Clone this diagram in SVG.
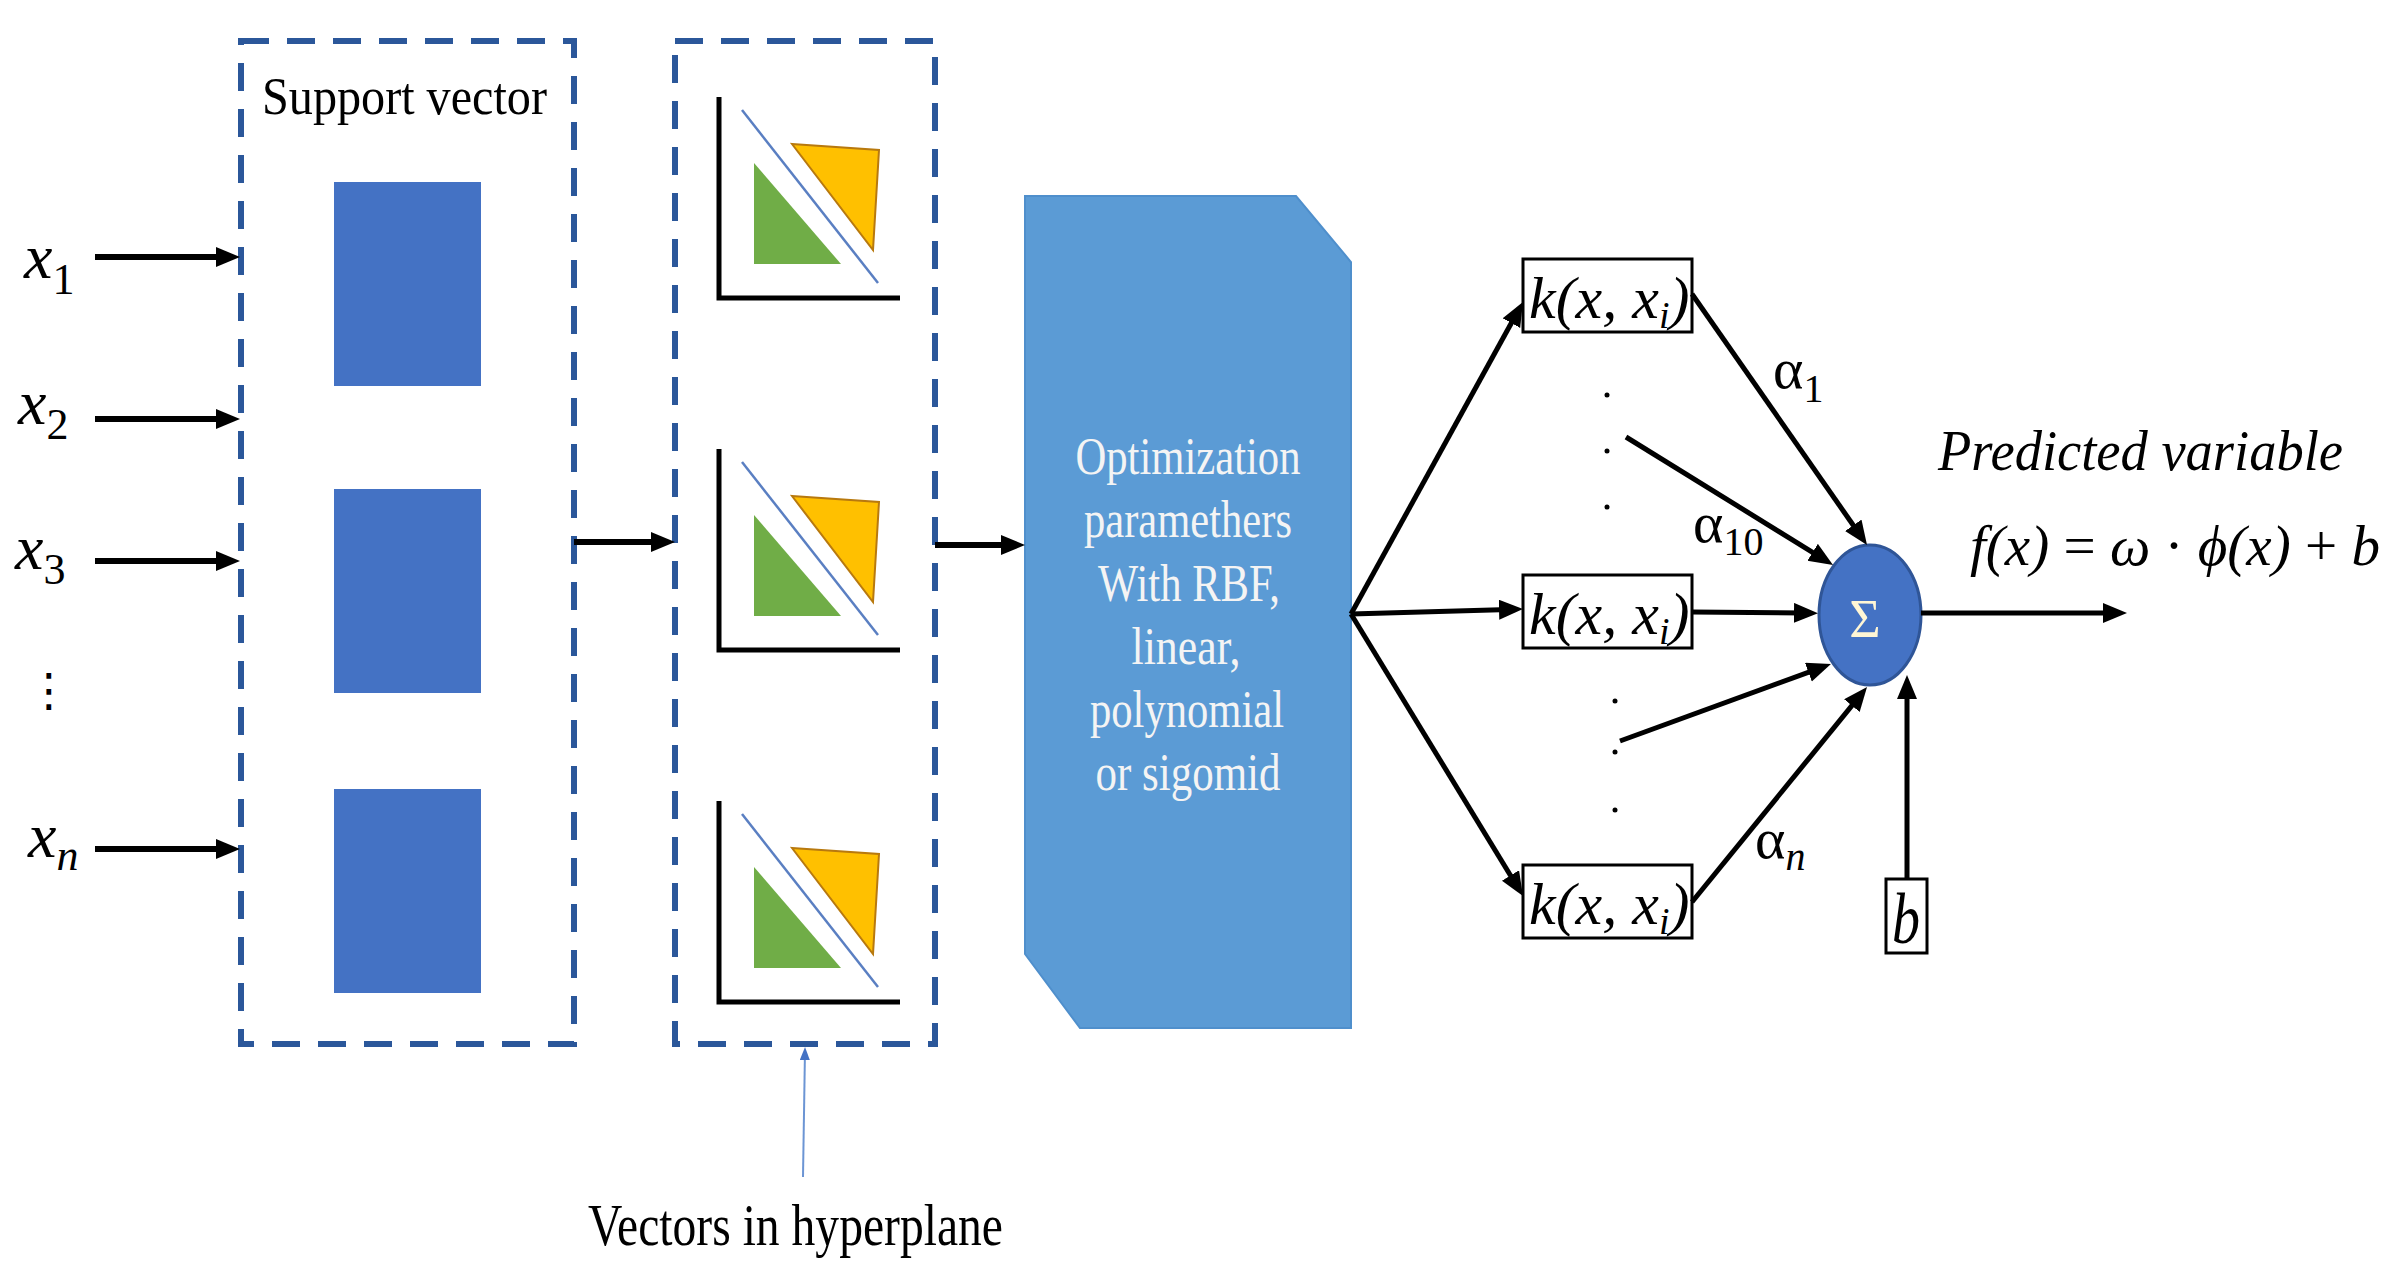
<svg xmlns="http://www.w3.org/2000/svg" xmlns:xlink="http://www.w3.org/1999/xlink" width="2394" height="1274" viewBox="0 0 2394 1274">
<style>
.dash{fill:none;stroke:#2B579A;stroke-width:6;stroke-dasharray:28 18}
.sv{fill:#4472C4}
.ln{fill:none;stroke:#000;stroke-width:5}
.lnt{fill:none;stroke:#000;stroke-width:6}
.kbox{fill:#fff;stroke:#000;stroke-width:3}
.serif{font-family:"Liberation Serif","Times New Roman",serif;fill:#000}
.math{font-family:"Liberation Serif","Times New Roman",serif;font-style:italic;fill:#000}
.wt{font-family:"Liberation Serif","Times New Roman",serif;fill:#F4F4F4;font-size:52px;text-anchor:middle}
</style>
<defs>
<marker id="ah" markerUnits="userSpaceOnUse" markerWidth="26" markerHeight="22" refX="10" refY="10" orient="auto">
<path d="M0,0 L24,10 L0,20 Z" fill="#000"/>
</marker>
<marker id="ahb" markerUnits="userSpaceOnUse" markerWidth="14" markerHeight="12" refX="4" refY="5" orient="auto">
<path d="M0,0 L13,5 L0,10 Z" fill="#4472C4"/>
</marker>
<g id="hyper">
<polygon points="754,163 754,264 841,264" fill="#70AD47"/>
<polygon points="792,144 879,150 873,250" fill="#FFC000" stroke="#B8790E" stroke-width="2"/>
<line x1="742" y1="110" x2="878" y2="283" stroke="#5A7FC2" stroke-width="2.5"/>
<polyline points="719,97 719,298 900,298" fill="none" stroke="#000" stroke-width="5"/>
</g>
</defs>
<rect width="2394" height="1274" fill="#fff"/>

<g id="inputs">
<text class="math" x="24" y="278" font-size="64">x<tspan font-style="normal" font-size="44" dy="16">1</tspan></text>
<text class="math" x="18" y="424" font-size="64">x<tspan font-style="normal" font-size="44" dy="15">2</tspan></text>
<text class="math" x="15" y="569" font-size="64">x<tspan font-style="normal" font-size="44" dy="15">3</tspan></text>
<text x="26" y="706" font-family="DejaVu Sans, sans-serif" font-size="46" fill="#000">⋮</text>
<text class="math" x="28" y="857" font-size="64">x<tspan font-size="44" dy="13">n</tspan></text>
</g>

<g id="support-vector">
<rect class="dash" x="241" y="41" width="333" height="1003"/>
<text class="serif" x="262" y="114" font-size="52" textLength="285" lengthAdjust="spacingAndGlyphs">Support vector</text>
<rect class="sv" x="334" y="182" width="147" height="204"/>
<rect class="sv" x="334" y="489" width="147" height="204"/>
<rect class="sv" x="334" y="789" width="147" height="204"/>
</g>

<g id="hyperplane">
<rect class="dash" x="675" y="41" width="260" height="1003"/>
<use xlink:href="#hyper"/>
<use xlink:href="#hyper" y="352"/>
<use xlink:href="#hyper" y="704"/>
</g>

<g id="hyperplane-label">
<text class="serif" x="588" y="1245" font-size="60" textLength="415" lengthAdjust="spacingAndGlyphs">Vectors in hyperplane</text>
</g>

<g id="optimization">
<path d="M1025,196 L1296,196 L1351,262 L1351,1028 L1080,1028 L1025,954 Z" fill="#5B9BD5" stroke="#4F8FCC" stroke-width="2"/>
<text class="wt" x="1188" y="474" textLength="225" lengthAdjust="spacingAndGlyphs">Optimization</text>
<text class="wt" x="1188" y="537" textLength="208" lengthAdjust="spacingAndGlyphs">paramethers</text>
<text class="wt" x="1189" y="601" textLength="182" lengthAdjust="spacingAndGlyphs">With RBF,</text>
<text class="wt" x="1186" y="664" textLength="109" lengthAdjust="spacingAndGlyphs">linear,</text>
<text class="wt" x="1187" y="727" textLength="194" lengthAdjust="spacingAndGlyphs">polynomial</text>
<text class="wt" x="1188" y="790" textLength="185" lengthAdjust="spacingAndGlyphs">or sigomid</text>
</g>

<g id="kernel1">
<rect class="kbox" x="1523" y="259" width="169" height="73"/>
<text class="math" x="1529" y="318" font-size="60">k(x, x<tspan font-size="38" dy="10">i</tspan><tspan dy="-10">)</tspan></text>
</g>
<g id="kernel2">
<rect class="kbox" x="1523" y="575" width="169" height="73"/>
<text class="math" x="1529" y="634" font-size="60">k(x, x<tspan font-size="38" dy="10">i</tspan><tspan dy="-10">)</tspan></text>
</g>
<g id="kernel3">
<rect class="kbox" x="1523" y="865" width="169" height="73"/>
<text class="math" x="1529" y="924" font-size="60">k(x, x<tspan font-size="38" dy="10">i</tspan><tspan dy="-10">)</tspan></text>
</g>

<g id="dots">
<circle cx="1607" cy="395" r="2.5" fill="#000"/>
<circle cx="1607" cy="451" r="2.5" fill="#000"/>
<circle cx="1607" cy="507" r="2.5" fill="#000"/>
<circle cx="1615" cy="701" r="2.5" fill="#000"/>
<circle cx="1615" cy="752" r="2.5" fill="#000"/>
<circle cx="1615" cy="810" r="2.5" fill="#000"/>
</g>

<g id="sum">
<ellipse cx="1870" cy="615" rx="51" ry="70" fill="#4472C4" stroke="#2F5597" stroke-width="3"/>
<text x="1865" y="637" font-family="Liberation Serif, serif" font-size="54" fill="#FFF6D5" text-anchor="middle">Σ</text>
</g>

<g id="bias">
<rect class="kbox" x="1886" y="879" width="41" height="74"/>
<text class="math" x="1892" y="943" font-size="72" textLength="28" lengthAdjust="spacingAndGlyphs">b</text>
</g>

<g id="weights">
<text class="serif" x="1773" y="388" font-size="58">α<tspan font-size="40" dy="14">1</tspan></text>
<text class="serif" x="1693" y="542" font-size="58">α<tspan font-size="40" dy="13">10</tspan></text>
<text class="serif" x="1755" y="858" font-size="58">α<tspan font-size="40" font-style="italic" dy="12">n</tspan></text>
</g>

<g id="output">
<text class="math" x="1938" y="470" font-size="58" textLength="405" lengthAdjust="spacingAndGlyphs">Predicted variable</text>
<text class="math" x="1970" y="565" font-size="58" textLength="410" lengthAdjust="spacingAndGlyphs">f(x) <tspan font-style="normal">=</tspan> ω <tspan font-style="normal">·</tspan> ϕ(x) <tspan font-style="normal">+</tspan> b</text>
</g>

<g id="connectors">
<line class="lnt" x1="95" y1="257" x2="226" y2="257" marker-end="url(#ah)"/>
<line class="lnt" x1="95" y1="419" x2="226" y2="419" marker-end="url(#ah)"/>
<line class="lnt" x1="95" y1="561" x2="226" y2="561" marker-end="url(#ah)"/>
<line class="lnt" x1="95" y1="849" x2="226" y2="849" marker-end="url(#ah)"/>
<line class="lnt" x1="574" y1="542" x2="661" y2="542" marker-end="url(#ah)"/>
<line class="lnt" x1="935" y1="545" x2="1011" y2="545" marker-end="url(#ah)"/>
<line class="ln" x1="1351" y1="614" x2="1516.2" y2="314.3" marker-end="url(#ah)"/>
<line class="ln" x1="1351" y1="614" x2="1509" y2="609.4" marker-end="url(#ah)"/>
<line class="ln" x1="1351" y1="614" x2="1515.7" y2="884" marker-end="url(#ah)"/>
<line class="ln" x1="1692" y1="294" x2="1859" y2="533.5" marker-end="url(#ah)"/>
<line class="ln" x1="1626" y1="437" x2="1821.1" y2="557.6" marker-end="url(#ah)"/>
<line class="ln" x1="1692" y1="612" x2="1804" y2="613" marker-end="url(#ah)"/>
<line class="ln" x1="1620" y1="741" x2="1817.8" y2="668.8" marker-end="url(#ah)"/>
<line class="ln" x1="1692" y1="902" x2="1858.2" y2="697.9" marker-end="url(#ah)"/>
<line class="ln" x1="1907" y1="879" x2="1907" y2="689" marker-end="url(#ah)"/>
<line class="ln" x1="1921" y1="613" x2="2113" y2="613" marker-end="url(#ah)"/>
<line x1="803" y1="1177" x2="804.9" y2="1056" stroke="#6C95D4" stroke-width="2" marker-end="url(#ahb)"/>
</g>
</svg>
